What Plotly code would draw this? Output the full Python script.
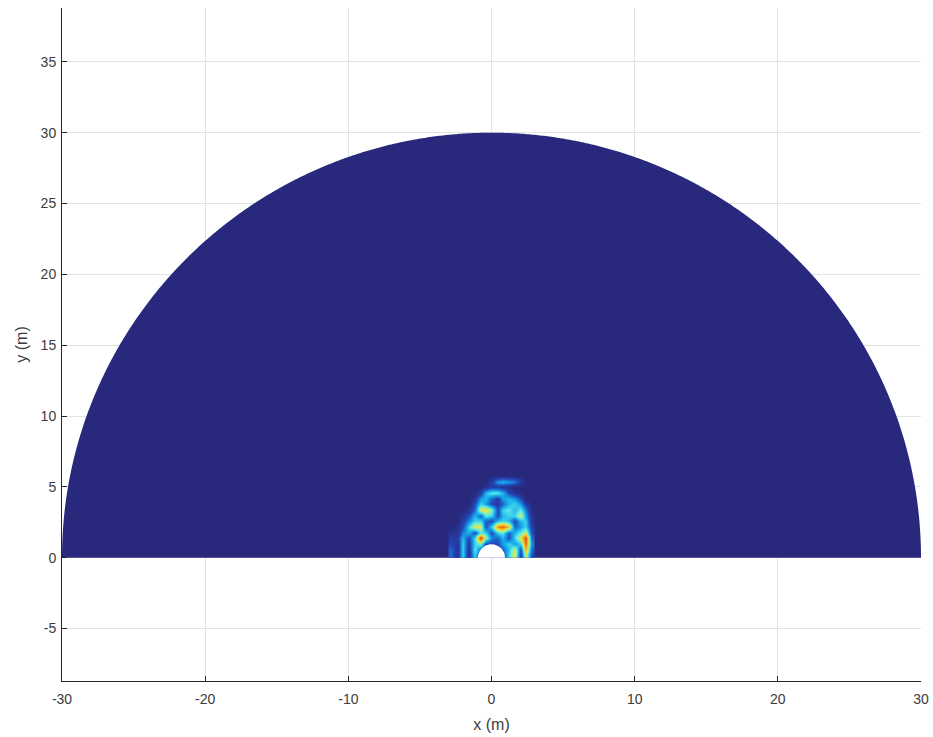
import numpy as np
import plotly.graph_objects as go

# ---- data ----
outer_radius = 30.0          # m, domain radius
inner_radius = 0.95          # m, scatterer (hole) radius
field_x = [-2.8, -2.4, -2.0, -1.6, -1.2, -0.8, -0.4, 0.0, 0.4, 0.8, 1.2, 1.6, 2.0, 2.4, 2.8]
field_y = [0.2, 0.6, 1.0, 1.4, 1.8, 2.2, 2.6, 3.0, 3.4, 3.8, 4.2, 4.6, 5.0, 5.4, 5.8]
field_z = [
    [0.20, 0.05, 0.40, 0.05, 0.40, 0.15, 0.15, 0.15, 0.15, 0.15, 0.40, 0.62, 0.10, 0.60, 0.15],
    [0.20, 0.05, 0.40, 0.05, 0.45, 0.20, 0.15, 0.15, 0.15, 0.20, 0.35, 0.60, 0.15, 0.75, 0.20],
    [0.15, 0.05, 0.40, 0.10, 0.40, 0.50, 0.15, 0.15, 0.15, 0.30, 0.40, 0.30, 0.40, 0.88, 0.25],
    [0.10, 0.10, 0.35, 0.15, 0.40, 0.95, 0.55, 0.25, 0.20, 0.35, 0.15, 0.40, 0.62, 0.92, 0.20],
    [0.05, 0.05, 0.25, 0.35, 0.15, 0.45, 0.40, 0.15, 0.40, 0.45, 0.20, 0.35, 0.45, 0.60, 0.15],
    [0.00, 0.05, 0.15, 0.40, 0.62, 0.60, 0.15, 0.40, 0.80, 0.88, 0.70, 0.20, 0.30, 0.40, 0.10],
    [0.00, 0.00, 0.10, 0.25, 0.40, 0.40, 0.20, 0.15, 0.35, 0.40, 0.35, 0.15, 0.35, 0.40, 0.05],
    [0.00, 0.00, 0.05, 0.15, 0.35, 0.20, 0.45, 0.40, 0.15, 0.35, 0.40, 0.40, 0.60, 0.30, 0.05],
    [0.00, 0.00, 0.00, 0.05, 0.20, 0.62, 0.65, 0.50, 0.15, 0.40, 0.45, 0.35, 0.45, 0.25, 0.00],
    [0.00, 0.00, 0.00, 0.00, 0.15, 0.40, 0.30, 0.15, 0.10, 0.20, 0.35, 0.40, 0.30, 0.10, 0.00],
    [0.00, 0.00, 0.00, 0.00, 0.05, 0.30, 0.35, 0.20, 0.10, 0.30, 0.35, 0.30, 0.15, 0.00, 0.00],
    [0.00, 0.00, 0.00, 0.00, 0.00, 0.10, 0.35, 0.45, 0.45, 0.35, 0.15, 0.05, 0.00, 0.00, 0.00],
    [0.00, 0.00, 0.00, 0.00, 0.00, 0.00, 0.05, 0.10, 0.10, 0.05, 0.05, 0.00, 0.00, 0.00, 0.00],
    [0.00, 0.00, 0.00, 0.00, 0.00, 0.00, 0.00, 0.10, 0.30, 0.35, 0.30, 0.25, 0.10, 0.00, 0.00],
    [0.00, 0.00, 0.00, 0.00, 0.00, 0.00, 0.00, 0.00, 0.00, 0.00, 0.00, 0.00, 0.00, 0.00, 0.00],
]
x_ticks = [-30, -20, -10, 0, 10, 20, 30]
x_tick_labels = ["-30", "-20", "-10", "0", "10", "20", "30"]
y_ticks = [-5, 0, 5, 10, 15, 20, 25, 30, 35]
y_tick_labels = ["-5", "0", "5", "10", "15", "20", "25", "30", "35"]

BG = "rgb(40,41,125)"
jet_like = [
    [0.00, BG],
    [0.15, "rgb(35,70,185)"],
    [0.32, "rgb(20,170,235)"],
    [0.45, "rgb(90,235,235)"],
    [0.62, "rgb(235,235,60)"],
    [0.80, "rgb(240,140,30)"],
    [1.00, "rgb(200,25,25)"],
]

theta = np.linspace(0, np.pi, 721)


def arc_path(radius):
    xs = radius * np.cos(theta)
    ys = radius * np.sin(theta)
    pts = " L ".join(f"{a:.4f},{b:.4f}" for a, b in zip(xs, ys))
    return "M " + pts + " Z"


fig = go.Figure()
# near field (heatmap trace)
fig.add_trace(go.Heatmap(
    x=field_x, y=field_y, z=field_z, zmin=0, zmax=1, zsmooth="best",
    colorscale=jet_like, showscale=False, hoverinfo="skip"))
# scatterer hole
fig.add_trace(go.Scatter(
    x=inner_radius * np.cos(theta), y=inner_radius * np.sin(theta),
    mode="lines", fill="toself", fillcolor="white", line=dict(width=0, color="white"),
    hoverinfo="skip", showlegend=False))

# outer half-disc, drawn between the grid and the traces
fig.add_shape(type="path", path=arc_path(outer_radius), xref="x", yref="y",
              fillcolor=BG, line=dict(width=0), layer="between")

font_family = "Liberation Sans, Arial, sans-serif"
text_color = "rgb(60,60,60)"
axis_common = dict(
    showgrid=True, gridcolor="rgb(226,226,226)", gridwidth=1,
    zeroline=False, showline=True, linecolor="rgb(38,38,38)", linewidth=1,
    ticks="inside", ticklen=5, tickcolor="rgb(38,38,38)",
    tickfont=dict(family=font_family, size=14, color=text_color),
    title_font=dict(family=font_family, size=16, color=text_color),
    mirror=False, automargin=False,
)
fig.update_xaxes(range=[-30, 30], tickvals=x_ticks, ticktext=x_tick_labels,
                 title_text="x (m)", title_standoff=13, ticklabelstandoff=5,
                 **axis_common)
fig.update_yaxes(range=[-8.7, 38.8], tickvals=y_ticks, ticktext=y_tick_labels,
                 title_text="y (m)", title_standoff=9, ticklabelstandoff=2,
                 **axis_common)

fig.update_layout(
    width=933, height=737,
    margin=dict(l=62, r=12, t=8, b=56),
    paper_bgcolor="white", plot_bgcolor="white",
    showlegend=False,
)
fig.write_html("out.html")
